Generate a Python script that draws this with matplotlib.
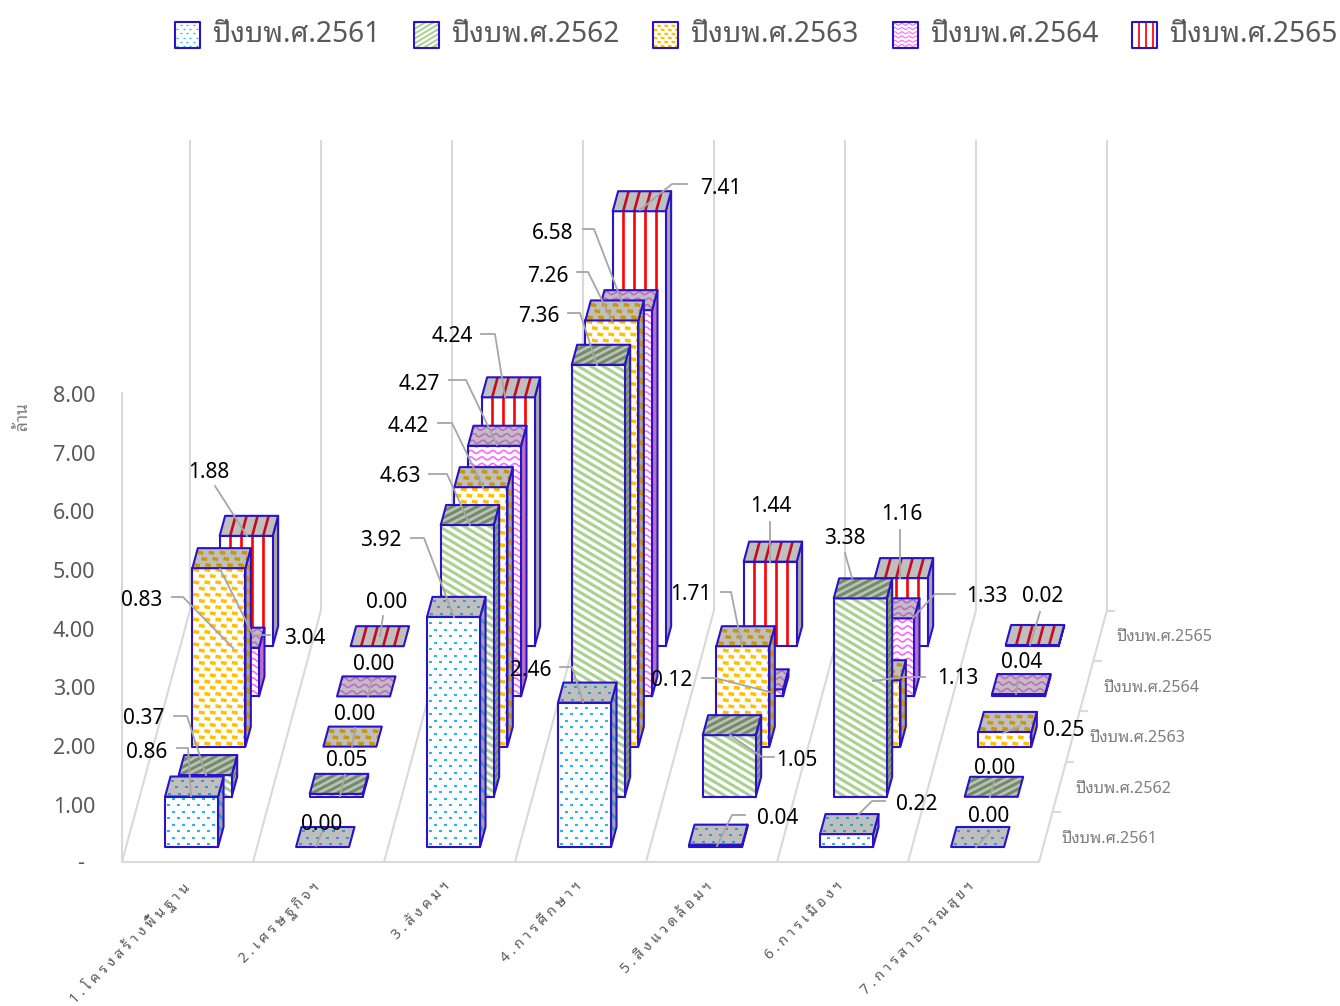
import numpy as np
import matplotlib
matplotlib.use("Agg")
import matplotlib.pyplot as plt
from matplotlib.collections import LineCollection
from matplotlib.patches import Polygon

plt.rcParams['font.family'] = ['Noto Sans Thai Looped', 'Noto Sans', 'DejaVu Sans']

categories = ["1.โครงสร้างพื้นฐาน", "2.เศรษฐกิจฯ", "3.สังคมฯ", "4.การศึกษาฯ",
              "5.สิ่งแวดล้อมฯ", "6.การเมืองฯ", "7.การสาธารณสุขฯ"]
series_names = ["ปีงบพ.ศ.2561", "ปีงบพ.ศ.2562", "ปีงบพ.ศ.2563", "ปีงบพ.ศ.2564", "ปีงบพ.ศ.2565"]

fy2561 = [0.86, 0.00, 3.92, 2.46, 0.04, 0.22, 0.00]
fy2562 = [0.37, 0.05, 4.63, 7.36, 1.05, 3.38, 0.00]
fy2563 = [3.04, 0.00, 4.42, 7.26, 1.71, 1.13, 0.25]
fy2564 = [0.83, 0.00, 4.27, 6.58, 0.12, 1.33, 0.04]
fy2565 = [1.88, 0.00, 4.24, 7.41, 1.44, 1.16, 0.02]
all_values = [fy2561, fy2562, fy2563, fy2564, fy2565]

value_ticks = [1, 2, 3, 4, 5, 6, 7, 8]
unit_label = "ล้าน"

## oblique projection of the excel 3d chart, all in image pixels
X0, Y0 = 122, 862
CAT_W = 131.0
SER_D = 50.2
SHEAR = 0.272
VAL_H = 58.7
BAR_W = 53
BAR_D = 20
BAR_GAP = 15

EDGE = "#2A12C8"
GRID = "#D9D9D9"
TEXT = "#595959"
LEADER = "#A6A6A6"

## texture kind and colours for front, top and side faces
styles = [("dots", "#22B8EE", "#3A9CC4"),
          ("diag", "#A9D18E", "#6F8F62"),
          ("brick", "#FFC000", "#C8960C"),
          ("wave", "#FF66FF", "#C468C8"),
          ("stripe", "#FF0000", "#C80A1E")]

## label placement per series then category: text centre, then leader points
label_layout = [
    [((147, 750), [(177, 748), (188, 748), (191, 796)]),
     ((322, 823), [(322, 832), (316, 846)]),
     ((381, 539), [(411, 538), (424, 538), (454, 617)]),
     ((531, 669), [(560, 667), (572, 667), (583, 702)]),
     ((778, 816), [(745, 815), (732, 815), (717, 846)]),
     ((917, 803), [(885, 801), (872, 801), (858, 815)]),
     ((989, 815), [(990, 832), (976, 847)])],
    [((144, 717), [(174, 716), (187, 716), (206, 775)]),
     ((347, 758), [(345, 775), (340, 796)]),
     ((400, 475), [(429, 474), (447, 474), (470, 525)]),
     ((539, 314), [(568, 313), (580, 313), (597, 365)]),
     ((797, 758), [(774, 757), (762, 757), (730, 735)]),
     ((845, 536), [(845, 553), (852, 578)]),
     ((995, 766), [(994, 782), (990, 797)])],
    [((305, 636), [(270, 635), (253, 635), (220, 569)]),
     ((355, 712), [(355, 728), (352, 746)]),
     ((408, 424), [(438, 423), (452, 423), (483, 487)]),
     ((548, 274), [(577, 272), (588, 272), (612, 320)]),
     ((691, 593), [(721, 592), (731, 592), (742, 646)]),
     ((958, 677), [(925, 677), (905, 677), (873, 681)]),
     ((1064, 728), [(1020, 726), (1003, 733)])],
    [((142, 598), [(172, 597), (183, 597), (233, 648)]),
     ((374, 663), [(372, 678), (368, 696)]),
     ((419, 382), [(449, 380), (466, 380), (497, 445)]),
     ((553, 231), [(583, 229), (594, 229), (622, 302)]),
     ((672, 679), [(702, 678), (715, 678), (770, 692)]),
     ((987, 595), [(955, 594), (935, 594), (913, 618)]),
     ((1022, 660), [(1018, 678), (1016, 694)])],
    [((209, 471), [(215, 486), (247, 536)]),
     ((387, 600), [(383, 616), (380, 636)]),
     ((452, 335), [(481, 334), (495, 334), (505, 397)]),
     ((721, 186), [(687, 184), (672, 184), (640, 210)]),
     ((771, 505), [(770, 522), (770, 562)]),
     ((902, 513), [(900, 530), (900, 578)]),
     ((1043, 595), [(1040, 612), (1030, 645)])],
]

fig = plt.figure(figsize=(13.4, 10.06), dpi=100)
ax = fig.add_axes([0, 0, 1, 1])
ax.set_xlim(0, 1340)
ax.set_ylim(1006, 0)
ax.axis("off")

order = [10]


def next_z():
    order[0] += 1
    return order[0]


def texture(corner, u, v, w, h, kind, color, clip, scale=1.0):
    ## pattern is laid out in face coordinates, then sheared onto the face
    corner, u, v = np.array(corner), np.array(u), np.array(v)
    w, h = w / scale, h / scale
    segs = []
    if kind == "dots":
        for j, b in enumerate(np.arange(3, h + 8, 6.5)):
            for a in np.arange(2 + 5 * (j % 2), w + 8, 10):
                segs.append([(a, b), (a + 3, b)])
        lw = 1.5
    elif kind == "diag":
        for b in np.arange(-w, h + w, 7.5):
            segs.append([(0, b), (w, b + w * 0.6)])
        lw = 2.2
    elif kind == "diagdown":
        for b in np.arange(-w, h + w, 7.5):
            segs.append([(0, b), (w, b - w * 0.6)])
        lw = 2.2
    elif kind == "brick":
        for j, b in enumerate(np.arange(3, h + 8, 6.2)):
            for a in np.arange(1 + 5.5 * (j % 2), w + 8, 11):
                segs.append([(a, b + 0.5), (a + 5.8, b - 0.5)])
        lw = 2.5
    elif kind == "wave":
        t = np.linspace(0, w, max(int(w), 2) * 2)
        for b in np.arange(4, h + 8, 6.5):
            segs.append(list(zip(t, b + 1.5 * np.sin(t * 2 * np.pi / 11))))
        lw = 1.2
    elif kind == "stripe":
        for a in np.arange(10.5, w, 11):
            segs.append([(a, -1), (a, h + 1)])
        lw = 1.9
    else:
        return
    pts = [[corner + (u * p[0] + v * p[1]) * scale for p in s] for s in segs]
    lc = LineCollection(pts, colors=color, linewidths=lw * scale, capstyle="butt", zorder=next_z())
    ax.add_collection(lc)
    lc.set_clip_path(clip)


def face(points, fill, kind, color, w, h, u, v, scale=1.0):
    ## u and v run from the first point of the face
    base = Polygon(points, closed=True, facecolor=fill, edgecolor="none", zorder=next_z())
    ax.add_patch(base)
    texture(points[0], u, v, w, h, kind, color, base, scale)
    ax.add_patch(Polygon(points, closed=True, fill=False, edgecolor=EDGE, linewidth=1.5,
                         joinstyle="round", zorder=next_z()))


def bar(cat, ser, value, style):
    kind, front_c, top_c = style
    front_kind = "diagdown" if kind == "diag" else kind
    side_kind = None if kind == "stripe" else front_kind
    d = ser * SER_D + BAR_GAP
    xl = X0 + CAT_W * (cat + 0.5) + SHEAR * d - BAR_W / 2
    xr = xl + BAR_W
    yb = Y0 - d
    yt = yb - value * VAL_H
    sx, sy = SHEAR * BAR_D, BAR_D
    if value > 0:
        face([(xr, yb), (xr, yt), (xr + sx, yt - sy), (xr + sx, yb - sy)], "#A6A6A6", side_kind, top_c,
             BAR_D, yb - yt + BAR_D, (SHEAR, -1), (0, -1))
        face([(xl, yb), (xl, yt), (xr, yt), (xr, yb)], "white", front_kind, front_c,
             BAR_W, yb - yt, (1, 0), (0, -1))
    face([(xl, yt), (xl + sx, yt - sy), (xr + sx, yt - sy), (xr, yt)], "#BFBFBF", kind, top_c,
         BAR_W, BAR_D, (1, 0), (SHEAR, -1))


def spaced(text):
    ## excel spreads the rotated thai labels, marks stay on their consonant
    marks = "\u0e31\u0e34\u0e35\u0e36\u0e37\u0e38\u0e39\u0e47\u0e48\u0e49\u0e4a\u0e4b\u0e4c"
    out = ""
    for ch in text:
        if out and ch not in marks:
            out += "\u2009\u200a"
        out += ch
    return out


## floor and walls
dx, dy = 5 * SER_D * SHEAR - 0.5, 5 * SER_D
wall_top = 140
n_cat = len(categories)
grid_segs = []
for i in range(n_cat + 1):
    x = X0 + CAT_W * i
    grid_segs.append([(x, Y0), (x + dx, Y0 - dy)])
    grid_segs.append([(x + dx, Y0 - dy), (x + dx, wall_top)])
grid_segs.append([(X0, Y0), (X0 + CAT_W * n_cat, Y0)])
grid_segs.append([(X0, Y0), (X0, Y0 - 8 * VAL_H)])
for s in range(5):
    xs = X0 + CAT_W * n_cat + SHEAR * SER_D * (s + 1)
    ys = Y0 - SER_D * (s + 1)
    grid_segs.append([(xs, ys), (xs + 8, ys)])
ax.add_collection(LineCollection(grid_segs, colors=GRID, linewidths=1.5, zorder=2))

## bars, back series first
for s in range(4, -1, -1):
    for c in range(n_cat):
        bar(c, s, all_values[s][c], styles[s])

## leaders and data labels on top
for s in range(5):
    for c in range(n_cat):
        (tx, ty), line = label_layout[s][c]
        xs, ys = zip(*line)
        ax.plot(xs, ys, color=LEADER, lw=1.3, zorder=next_z())
for s in range(5):
    for c in range(n_cat):
        (tx, ty), line = label_layout[s][c]
        ax.text(tx, ty + 2, f"{all_values[s][c]:.2f}", fontsize=15, color="black", ha="center",
                va="center", family=["Noto Sans"], zorder=next_z())

## value axis
for v in value_ticks:
    ax.text(95, Y0 + 4 - v * VAL_H, f"{v:.2f}", fontsize=15.5, color=TEXT, ha="right", va="center",
            family=["Noto Sans"])
ax.text(81, Y0 + 1, "-", fontsize=15.5, color=TEXT, ha="center", va="center", family=["Noto Sans"])
ax.text(22, 416, unit_label, fontsize=12.5, color="#7F7F7F", rotation=90, ha="center", va="center")

## category labels
for i, name in enumerate(categories):
    ax.text(181 + CAT_W * i, 879, spaced(name), fontsize=10.3, color=TEXT, rotation=45, ha="right", va="top",
            rotation_mode="anchor")

## series labels on the depth axis
for s, name in enumerate(series_names):
    ax.text(1062 + 13.7 * s, 839 - 50.4 * s, name, fontsize=11.6, color="#7F7F7F", ha="left", va="center")

## legend
legend_x = [175, 414, 653, 893, 1132]
for s, name in enumerate(series_names):
    x = legend_x[s]
    pts = [(x, 48), (x, 22), (x + 25, 22), (x + 25, 48)]
    face(pts, "white", styles[s][0], styles[s][1], 25, 26, (1, 0), (0, -1), scale=0.65)
    ax.text(x + 37, 34, name, fontsize=20.3, color=TEXT, ha="left", va="center", zorder=next_z())

fig.savefig("out.png", dpi=100)
